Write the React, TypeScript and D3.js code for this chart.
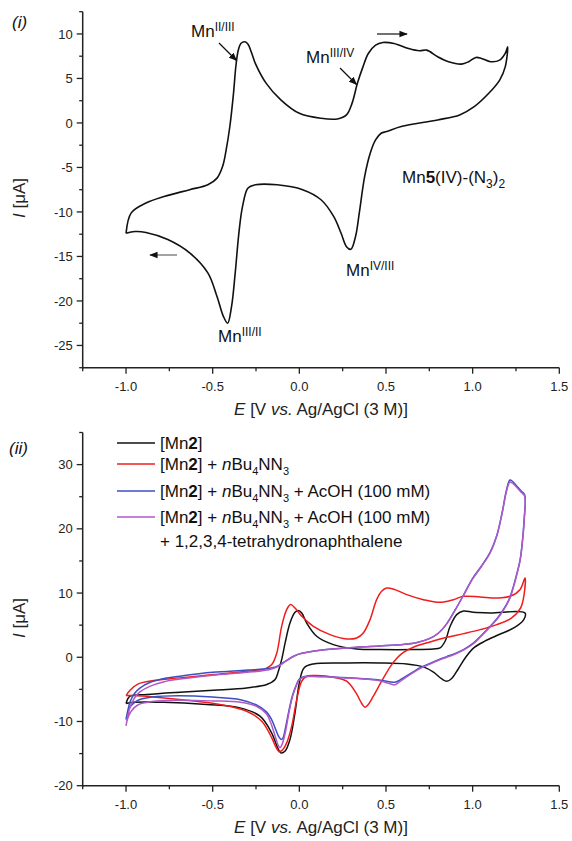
import React from "react";
import * as d3 from "d3";

type P = [number, number];

// ---------- Panel (i) data: Mn5(IV)-(N3)2 ----------
const topForward: P[] = [
  [-1.0, -12.4], [-0.97, -10.1], [-0.885, -9.0], [-0.78, -8.26], [-0.633, -7.5], [-0.528, -6.95],
  [-0.475, -6.2], [-0.443, -4.9], [-0.422, -3.0], [-0.401, -0.4], [-0.38, 3.3], [-0.366, 6.4],
  [-0.352, 8.2], [-0.336, 8.95], [-0.315, 9.12], [-0.296, 8.85], [-0.276, 7.9], [-0.254, 6.7],
  [-0.191, 4.45], [-0.107, 2.6],
  [0.0, 1.08], [0.125, 0.52], [0.219, 0.45], [0.272, 0.9], [0.304, 2.2], [0.335, 4.45],
  [0.367, 6.3], [0.398, 7.8], [0.44, 8.74], [0.482, 9.04], [0.546, 8.93], [0.63, 8.37],
  [0.693, 8.11], [0.735, 8.18], [0.798, 7.44], [0.861, 6.88], [0.935, 6.61], [0.977, 6.88],
  [1.019, 7.36], [1.051, 7.25], [1.104, 6.88], [1.156, 7.06], [1.188, 7.81], [1.202, 8.56],
];
const topReverse: P[] = [
  [1.202, 8.56], [1.188, 6.3], [1.156, 4.82], [1.093, 3.33], [1.009, 1.83], [0.925, 0.9],
  [0.798, 0.34], [0.588, -0.41], [0.504, -0.97], [0.472, -1.16], [0.44, -1.91], [0.409, -3.4],
  [0.377, -6.0], [0.346, -10.1], [0.325, -12.7], [0.297, -14.2], [0.272, -13.9], [0.241, -12.4],
  [0.198, -10.5], [0.125, -8.63], [0.019, -7.5], [-0.128, -6.95], [-0.254, -6.95], [-0.296, -7.3],
  [-0.328, -9.4], [-0.349, -12.4], [-0.37, -16.85], [-0.391, -20.6], [-0.414, -22.5], [-0.439, -21.7],
  [-0.475, -19.5], [-0.528, -16.85], [-0.633, -14.6], [-0.759, -13.1], [-0.885, -12.3], [-0.949, -12.2],
  [-1.0, -12.4],
];

// ---------- Panel (ii) data ----------
const mn2Forward: P[] = [
  [-1.0, -7.2], [-0.977, -6.07], [-0.881, -5.8], [-0.689, -5.44], [-0.496, -5.13], [-0.304, -4.77],
  [-0.188, -4.25], [-0.14, -3.47], [-0.121, -2.18], [-0.102, -0.36], [-0.082, 2.23], [-0.054, 5.34],
  [-0.025, 7.0], [-0.006, 7.3], [0.014, 6.9], [0.042, 5.34], [0.1, 3.27], [0.196, 1.97],
  [0.331, 1.3], [0.465, 1.2], [0.658, 1.2], [0.773, 1.3], [0.812, 1.46], [0.841, 2.49],
  [0.87, 4.82], [0.908, 6.64], [0.947, 7.2], [1.004, 7.0], [1.1, 6.9], [1.302, 6.9],
];
const mn2Reverse: P[] = [
  [1.302, 6.9], [1.295, 5.86], [1.24, 4.6], [1.15, 3.5], [1.07, 2.5], [1.008, 1.5], [0.96, 0.0],
  [0.915, -1.9], [0.879, -3.3], [0.851, -3.73], [0.822, -3.37], [0.774, -2.33], [0.716, -1.5],
  [0.62, -1.04], [0.465, -0.88], [0.273, -0.88], [0.081, -1.04], [0.027, -1.66], [0.0, -3.99],
  [-0.025, -8.66], [-0.054, -12.8], [-0.082, -14.6], [-0.106, -14.9], [-0.125, -14.1], [-0.16, -11.77],
  [-0.227, -9.17], [-0.342, -7.88], [-0.535, -7.36], [-0.785, -7.0], [-0.958, -7.0], [-1.0, -7.2],
];

const azideForward: P[] = [
  [-1.0, -5.96], [-0.977, -5.13], [-0.929, -4.15], [-0.842, -3.63], [-0.689, -3.21], [-0.496, -2.69],
  [-0.304, -2.18], [-0.198, -1.81], [-0.159, -1.14], [-0.13, 0.67], [-0.102, 4.82], [-0.073, 7.42],
  [-0.05, 8.2], [-0.025, 7.68], [0.014, 6.38], [0.081, 4.82], [0.177, 3.53], [0.273, 2.85],
  [0.331, 3.01], [0.369, 3.79], [0.408, 5.86], [0.446, 8.97], [0.475, 10.27], [0.504, 10.78],
  [0.552, 10.53], [0.62, 9.75], [0.716, 8.97], [0.812, 8.55], [0.889, 8.97], [0.947, 9.49],
  [1.043, 9.38], [1.139, 9.23], [1.216, 9.49], [1.273, 10.52], [1.302, 12.34],
];
const azideReverse: P[] = [
  [1.302, 12.34], [1.298, 10.0], [1.277, 7.68], [1.225, 6.12], [1.139, 5.08], [1.043, 4.3],
  [0.947, 3.68], [0.851, 3.11], [0.754, 2.39], [0.658, 1.56], [0.591, 0.57], [0.533, -1.14],
  [0.475, -3.73], [0.427, -6.07], [0.398, -7.36], [0.379, -7.78], [0.36, -7.2], [0.327, -5.55],
  [0.273, -3.73], [0.196, -3.11], [0.1, -2.85], [0.042, -2.95], [0.014, -3.73], [-0.015, -6.59],
  [-0.044, -10.73], [-0.073, -13.33], [-0.1, -14.5], [-0.117, -14.7], [-0.135, -14.0], [-0.159, -12.55],
  [-0.217, -9.95], [-0.304, -8.4], [-0.458, -7.36], [-0.65, -6.69], [-0.842, -6.17], [-0.958, -5.96],
  [-1.0, -5.96],
];

const acidForward: P[] = [
  [-1.0, -9.7], [-0.99, -8.3], [-0.975, -6.8], [-0.95, -5.6], [-0.92, -4.8], [-0.86, -3.9],
  [-0.78, -3.3], [-0.69, -2.95], [-0.5, -2.35], [-0.3, -2.0], [-0.17, -1.7], [-0.12, -1.3],
  [-0.08, -0.6], [-0.03, 0.2], [0.02, 0.65], [0.12, 1.1], [0.27, 1.45], [0.46, 1.75],
  [0.6, 2.0], [0.68, 2.3], [0.75, 2.9], [0.8, 3.7], [0.85, 5.2], [0.9, 7.4], [0.95, 9.8],
  [1.0, 12.3], [1.05, 14.2], [1.1, 16.3], [1.14, 19.0], [1.17, 22.5], [1.195, 26.0],
  [1.215, 27.6], [1.23, 27.4], [1.25, 26.8], [1.28, 25.9], [1.3, 25.3],
];
const acidReverse: P[] = [
  [1.3, 25.3], [1.297, 21.4], [1.285, 17.5], [1.274, 15.2], [1.255, 13.0], [1.235, 11.0],
  [1.21, 9.0], [1.177, 7.4], [1.14, 6.0], [1.1, 4.8], [1.05, 3.4], [1.004, 2.2], [0.947, 1.2],
  [0.9, 0.6], [0.85, 0.1], [0.8, -0.4], [0.75, -1.0], [0.7, -1.6], [0.65, -2.4], [0.6, -3.2],
  [0.57, -3.7], [0.55, -3.9], [0.52, -3.8], [0.45, -3.5], [0.35, -3.3], [0.25, -3.15],
  [0.15, -3.0], [0.07, -2.95], [0.03, -3.0], [0.0, -3.4], [-0.02, -4.5], [-0.04, -6.0],
  [-0.06, -8.3], [-0.08, -11.0], [-0.095, -12.6], [-0.105, -12.8], [-0.12, -12.3], [-0.14, -11.0],
  [-0.16, -9.7], [-0.19, -8.5], [-0.25, -7.4], [-0.34, -6.6], [-0.5, -6.2], [-0.7, -6.0],
  [-0.85, -6.2], [-0.93, -6.7], [-0.97, -7.5], [-0.99, -8.5], [-1.0, -9.7],
];

const thnForward: P[] = [
  [-1.0, -10.7], [-0.99, -9.2], [-0.975, -7.6], [-0.95, -6.3], [-0.92, -5.4], [-0.86, -4.5],
  [-0.78, -3.8], [-0.69, -3.4], [-0.5, -2.8], [-0.3, -2.35], [-0.17, -1.9], [-0.12, -1.4],
  [-0.08, -0.65], [-0.03, 0.2], [0.02, 0.65], [0.12, 1.1], [0.27, 1.45], [0.46, 1.75],
  [0.6, 2.0], [0.68, 2.3], [0.75, 2.9], [0.8, 3.7], [0.85, 5.2], [0.9, 7.4], [0.95, 9.8],
  [1.0, 12.2], [1.05, 14.1], [1.1, 16.2], [1.14, 19.0], [1.17, 22.4], [1.195, 25.8],
  [1.215, 27.3], [1.23, 27.1], [1.25, 26.6], [1.28, 25.7], [1.3, 25.1],
];
const thnReverse: P[] = [
  [1.3, 25.1], [1.297, 21.2], [1.285, 17.4], [1.274, 15.1], [1.255, 12.9], [1.235, 10.9],
  [1.21, 8.9], [1.177, 7.3], [1.14, 5.9], [1.1, 4.7], [1.05, 3.3], [1.004, 2.1], [0.947, 1.1],
  [0.9, 0.5], [0.85, 0.0], [0.8, -0.5], [0.75, -1.1], [0.7, -1.7], [0.65, -2.5], [0.6, -3.4],
  [0.57, -4.0], [0.55, -4.3], [0.52, -4.1], [0.45, -3.6], [0.35, -3.35], [0.25, -3.2],
  [0.15, -3.05], [0.07, -3.0], [0.03, -3.05], [0.0, -3.5], [-0.02, -4.6], [-0.04, -6.2],
  [-0.06, -8.6], [-0.08, -11.6], [-0.1, -13.6], [-0.112, -14.1], [-0.125, -13.5], [-0.145, -11.8],
  [-0.165, -10.2], [-0.19, -8.8], [-0.25, -7.6], [-0.34, -7.0], [-0.5, -6.8], [-0.7, -6.7],
  [-0.85, -6.9], [-0.93, -7.4], [-0.97, -8.4], [-0.99, -9.5], [-1.0, -10.7],
];

// ---------- axes ----------
const xDomain: P = [-1.25, 1.5];
const xMajor = [-1.0, -0.5, 0.0, 0.5, 1.0, 1.5];
const xMinor = [-1.25, -0.75, -0.25, 0.25, 0.75, 1.25];
const topYDomain: P = [-27.5, 12.5];
const topYMajor = [10, 5, 0, -5, -10, -15, -20, -25];
const topYMinor = [12.5, 7.5, 2.5, -2.5, -7.5, -12.5, -17.5, -22.5, -27.5];
const botYDomain: P = [-20, 35];
const botYMajor = [30, 20, 10, 0, -10, -20];
const botYMinor = [35, 25, 15, 5, -5, -15];

const seriesColors = ["#111111", "#f01c1c", "#3d4fc0", "#b058c8"];

const FONT = "'Liberation Sans', Arial, Helvetica, sans-serif";
const AX = "#222";

const x = d3.scaleLinear().domain(xDomain).range([82.7, 559.3]);
const yTop = d3.scaleLinear().domain(topYDomain).range([367.7, 11.7]);
const yBot = d3.scaleLinear().domain(botYDomain).range([785.7, 432.5]);

const join = (a: P[], b: P[]) => a.concat(b.slice(1));

function pathFor(data: P[], y: d3.ScaleLinear<number, number>) {
  const gen = d3
    .line<P>()
    .x((d) => x(d[0]))
    .y((d) => y(d[1]))
    .curve(d3.curveCatmullRom.alpha(0.5));
  return gen(data) || "";
}

function Axes({ y, major, minor, x0, yAxis }: { y: d3.ScaleLinear<number, number>; major: number[]; minor: number[]; x0: number; yAxis: number }) {
  const [r0, r1] = y.range();
  const xr = x.range();
  return (
    <g fontFamily={FONT} fill="#222">
      <line x1={xr[0]} x2={xr[1]} y1={r0} y2={r0} stroke={AX} strokeWidth={1.5} />
      <line x1={xr[0]} x2={xr[0]} y1={r1} y2={r0 + 1} stroke={AX} strokeWidth={1.5} />
      {major.map((v) => (
        <g key={"ym" + v}>
          <line x1={xr[0] - 6} x2={xr[0]} y1={y(v)} y2={y(v)} stroke={AX} strokeWidth={1.3} />
          <text x={xr[0] - 10} y={y(v)} dy="0.35em" textAnchor="end" fontSize={13}>
            {String(v)}
          </text>
        </g>
      ))}
      {minor.map((v) => (
        <line key={"yn" + v} x1={xr[0] - 3.5} x2={xr[0]} y1={y(v)} y2={y(v)} stroke={AX} strokeWidth={1.3} />
      ))}
      {xMajor.map((v) => (
        <g key={"xm" + v}>
          <line x1={x(v)} x2={x(v)} y1={r0} y2={r0 + 6} stroke={AX} strokeWidth={1.3} />
          <text x={x(v)} y={r0 + 23} textAnchor="middle" fontSize={13}>
            {v.toFixed(1)}
          </text>
        </g>
      ))}
      {xMinor.map((v) => (
        <line key={"xn" + v} x1={x(v)} x2={x(v)} y1={r0} y2={r0 + 3.5} stroke={AX} strokeWidth={1.3} />
      ))}
      <text x={(xr[0] + xr[1]) / 2} y={r0 + 47} textAnchor="middle" fontSize={17}>
        <tspan fontStyle="italic">E</tspan> [V <tspan fontStyle="italic">vs.</tspan> Ag/AgCl (3 M)]
      </text>
      <text transform={`translate(${x0},${yAxis}) rotate(-90)`} textAnchor="middle" fontSize={17}>
        <tspan fontStyle="italic">I</tspan> [μA]
      </text>
    </g>
  );
}

function Sup({ x: tx, y: ty, base, sup }: { x: number; y: number; base: string; sup: string }) {
  return (
    <text x={tx} y={ty} fontFamily={FONT} fontSize={17} fill="#111">
      {base}
      <tspan dy={-6} fontSize={12}>{sup}</tspan>
    </text>
  );
}

const legendLabels = [
  "[Mn2]",
  "[Mn2] + nBu4NN3",
  "[Mn2] + nBu4NN3 + AcOH (100 mM)",
  "[Mn2] + nBu4NN3 + AcOH (100 mM)",
];

function LegendText({ label, tx, ty }: { label: string; tx: number; ty: number }) {
  const hasAzide = label.includes("nBu4NN3");
  const tail = label.includes("AcOH") ? " + AcOH (100 mM)" : "";
  return (
    <text x={tx} y={ty} fontFamily={FONT} fontSize={17} fill="#111">
      [Mn<tspan fontWeight="bold">2</tspan>]
      {hasAzide ? (
        <>
          {" + "}
          <tspan fontStyle="italic">n</tspan>Bu
          <tspan dy={5} fontSize={11}>4</tspan>
          <tspan dy={-5}>NN</tspan>
          <tspan dy={5} fontSize={11}>3</tspan>
          <tspan dy={-5}>{tail}</tspan>
        </>
      ) : null}
    </text>
  );
}

export default function App() {
  const topLoop = join(topForward, topReverse);
  const curves = [
    join(mn2Forward, mn2Reverse),
    join(azideForward, azideReverse),
    join(acidForward, acidReverse),
    join(thnForward, thnReverse),
  ];
  const legendY = [443, 464, 491, 517];
  return (
    <svg width={572} height={841} style={{ position: "absolute", left: 0, top: 0, background: "#fff" }}>
      <defs>
        <marker id="ah" viewBox="0 0 10 10" refX="9" refY="5" markerWidth="7" markerHeight="7" orient="auto-start-reverse">
          <path d="M0,1 L10,5 L0,9 z" fill="#111" />
        </marker>
      </defs>
      <rect width={572} height={841} fill="#fff" />

      {/* Panel (i) */}
      <text x={12} y={28} fontFamily={FONT} fontSize={17} fontStyle="italic" fill="#111">(i)</text>
      <Axes y={yTop} major={topYMajor} minor={topYMinor} x0={25} yAxis={198} />
      <path d={pathFor(topLoop, yTop)} fill="none" stroke="#111" strokeWidth={1.6} strokeLinejoin="round" />
      <Sup x={191} y={37} base="Mn" sup="II/III" />
      <Sup x={306} y={63} base="Mn" sup="III/IV" />
      <Sup x={346} y={276} base="Mn" sup="IV/III" />
      <Sup x={218} y={342} base="Mn" sup="III/II" />
      <line x1={219} y1={43} x2={236.5} y2={60.5} stroke="#111" strokeWidth={1.2} markerEnd="url(#ah)" />
      <line x1={340} y1={68} x2={356.5} y2={84.5} stroke="#111" strokeWidth={1.2} markerEnd="url(#ah)" />
      <line x1={377} y1={34} x2={407} y2={34} stroke="#111" strokeWidth={1.2} markerEnd="url(#ah)" />
      <line x1={177} y1={255} x2={150} y2={255} stroke="#666" strokeWidth={1.2} markerEnd="url(#ah)" />
      <text x={402} y={183} fontFamily={FONT} fontSize={17} fill="#111">
        Mn<tspan fontWeight="bold">5</tspan>(IV)-(N
        <tspan dy={5} fontSize={12}>3</tspan>
        <tspan dy={-5}>)</tspan>
        <tspan dy={5} fontSize={12}>2</tspan>
      </text>

      {/* Panel (ii) */}
      <text x={9} y={454} fontFamily={FONT} fontSize={17} fontStyle="italic" fill="#111">(ii)</text>
      <Axes y={yBot} major={botYMajor} minor={botYMinor} x0={25} yAxis={618} />
      {curves.map((c, i) => (
        <path key={i} d={pathFor(c, yBot)} fill="none" stroke={seriesColors[i]} strokeWidth={1.5} strokeLinejoin="round" />
      ))}
      {legendLabels.map((lab, i) => (
        <g key={"lg" + i}>
          <line x1={117} x2={155} y1={legendY[i]} y2={legendY[i]} stroke={seriesColors[i]} strokeWidth={1.5} />
          <LegendText label={lab} tx={160} ty={legendY[i] + 5.5} />
        </g>
      ))}
      <text x={160} y={547} fontFamily={FONT} fontSize={17} fill="#111">
        + 1,2,3,4-tetrahydronaphthalene
      </text>
    </svg>
  );
}
